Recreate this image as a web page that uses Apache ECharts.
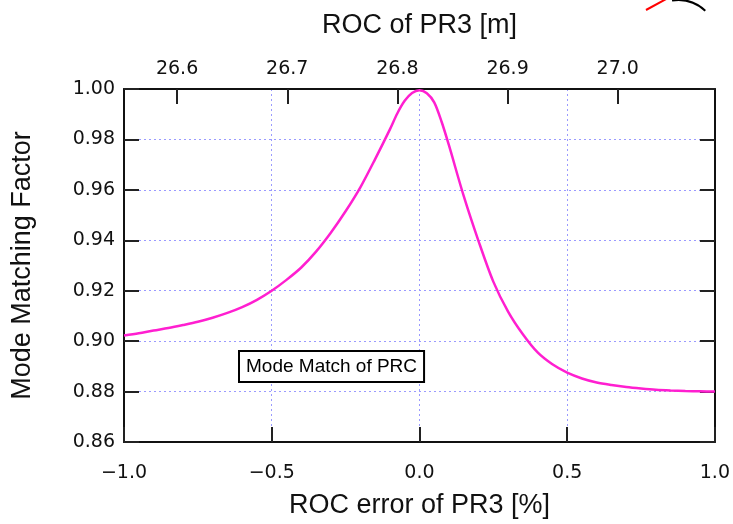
<!DOCTYPE html>
<html>
<head>
<meta charset="utf-8">
<script src="https://cdn.jsdelivr.net/npm/echarts@6/dist/echarts.min.js"></script>
<style>
  html, body { margin: 0; padding: 0; background: #fff; }
  #chart { width: 733px; height: 524px; }
</style>
</head>
<body>
<div id="chart"></div>
<script>
// ROC error of PR3 [%] (bottom axis), every 0.05, denser round the peak
const rocError = [-1.0, -0.95, -0.9, -0.85, -0.8, -0.75, -0.7, -0.65, -0.6, -0.55, -0.5, -0.45, -0.4, -0.35, -0.3, -0.25, -0.2, -0.15, -0.1,
  -0.075, -0.05, -0.025, 0.0, 0.025, 0.05, 0.075,
  0.1, 0.15, 0.2, 0.25, 0.3, 0.35, 0.4, 0.45, 0.5, 0.55, 0.6, 0.65, 0.7, 0.75, 0.8, 0.85, 0.9, 0.95, 1.0];
// mode matching factor
const matchFactor = [0.9022, 0.9031, 0.9042, 0.9052, 0.9064, 0.9077, 0.9093, 0.9112, 0.9135, 0.9164, 0.9200, 0.9243, 0.9292, 0.9355, 0.9430, 0.9515, 0.9610, 0.9722, 0.9840,
  0.9903, 0.9953, 0.9984, 0.9995, 0.9983, 0.9947, 0.9870,
  0.9776, 0.9575, 0.9397, 0.9236, 0.9117, 0.9027, 0.8955, 0.8908, 0.8875, 0.8852, 0.8836, 0.8826, 0.8818, 0.8812, 0.8807, 0.8804, 0.8802, 0.8801, 0.8800];

const roc0 = 26.82;            // nominal ROC of PR3 [m], top axis
const seriesName = 'Mode Match of PRC';

const chart = echarts.init(document.getElementById('chart'));

const titleFont = { fontFamily: 'Liberation Sans', fontSize: 27, color: '#111' };
const tickFont = { fontFamily: 'DejaVu Sans', fontSize: 19, color: '#111' };
const tickStyle = { show: true, inside: true, length: 15, lineStyle: { color: '#222', width: 2 } };
const lineStyle = { onZero: false, lineStyle: { color: '#111', width: 2 } };
const gridLine = { show: true, lineStyle: { color: '#9a9aff', type: [2, 3], width: 1 } };

const option = {
  animation: false,
  grid: { left: 124, right: 16, top: 89, bottom: 77 },
  legend: {
    data: [seriesName],
    left: 239, top: 351,
    icon: 'none', itemWidth: 0, itemHeight: 0,
    padding: [6, 7, 6, 2],
    borderColor: '#000', borderWidth: 2,
    backgroundColor: '#fff',
    textStyle: { fontFamily: 'Liberation Sans', fontSize: 19, color: '#000' }
  },
  xAxis: [
    {
      type: 'value', position: 'bottom',
      min: -1, max: 1, interval: 0.5,
      name: 'ROC error of PR3 [%]', nameLocation: 'middle', nameGap: 50,
      nameTextStyle: titleFont,
      axisLine: lineStyle, axisTick: tickStyle,
      axisLabel: Object.assign({ margin: 22, formatter: v => (v < 0 ? '\u2212' : '') + Math.abs(v).toFixed(1) }, tickFont),
      splitLine: gridLine
    },
    {
      type: 'value', position: 'top',
      min: roc0 * (1 + rocError[0] / 100), max: roc0 * (1 + rocError[rocError.length - 1] / 100),
      splitNumber: 5,
      name: 'ROC of PR3 [m]', nameLocation: 'middle', nameGap: 50,
      nameTextStyle: titleFont,
      axisLine: lineStyle, axisTick: tickStyle,
      axisLabel: Object.assign({ margin: 10, showMinLabel: false, showMaxLabel: false, formatter: v => v.toFixed(1) }, tickFont),
      splitLine: { show: false }
    }
  ],
  yAxis: [
    {
      type: 'value', position: 'left',
      min: 0.86, max: 1.0, interval: 0.02,
      name: 'Mode Matching Factor', nameLocation: 'middle', nameGap: 88,
      nameTextStyle: titleFont,
      axisLine: lineStyle, axisTick: tickStyle,
      axisLabel: Object.assign({ margin: 9, formatter: v => v.toFixed(2) }, tickFont),
      splitLine: gridLine
    },
    {
      type: 'value', position: 'right',
      min: 0.86, max: 1.0, interval: 0.02,
      axisLine: lineStyle, axisTick: tickStyle,
      axisLabel: { show: false },
      splitLine: { show: false }
    }
  ],
  series: [
    {
      name: seriesName,
      type: 'line',
      xAxisIndex: 0, yAxisIndex: 0,
      data: rocError.map((x, i) => [x, matchFactor[i]]),
      smooth: 0.3,
      showSymbol: false,
      lineStyle: { color: '#ff1fd0', width: 2.5 },
      itemStyle: { color: '#ff1fd0' }
    }
  ],
  // edge of a neighbouring figure, cut off at the top right
  graphic: [
    { type: 'line', shape: { x1: 646, y1: 10, x2: 668, y2: -2 }, style: { stroke: '#ff0000', lineWidth: 2 } },
    { type: 'arc', shape: { cx: 678, cy: 40, r: 40, startAngle: -1.72, endAngle: -0.82 }, style: { stroke: '#000', lineWidth: 2, fill: null } }
  ]
};

chart.setOption(option);
</script>
</body>
</html>
